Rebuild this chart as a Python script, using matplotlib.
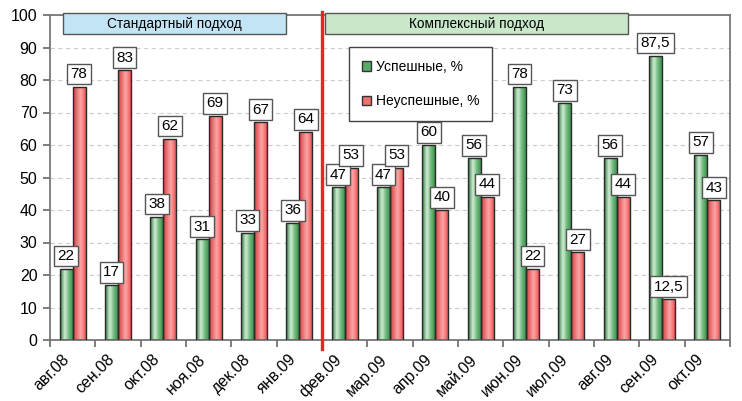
import matplotlib
matplotlib.use("Agg")
import matplotlib.pyplot as plt
import numpy as np
from matplotlib.patches import Rectangle, Patch
from matplotlib.colors import LinearSegmentedColormap
import matplotlib.transforms as mtransforms

plt.rcParams['font.family'] = ['Liberation Sans', 'DejaVu Sans']

months = ["авг.08", "сен.08", "окт.08", "ноя.08", "дек.08", "янв.09", "фев.09",
          "мар.09", "апр.09", "май.09", "июн.09", "июл.09", "авг.09", "сен.09", "окт.09"]
success = [22, 17, 38, 31, 33, 36, 47, 47, 60, 56, 78, 73, 56, 87.5, 57]
failure = [78, 83, 62, 69, 67, 64, 53, 53, 40, 44, 22, 27, 44, 12.5, 43]
series_names = ["Успешные, %", "Неуспешные, %"]
headers = ["Стандартный подход", "Комплексный подход"]
yticks = list(range(0, 101, 10))

fig = plt.figure(figsize=(7.42, 4.01), dpi=100)
ax = fig.add_axes([50/742, 1-340/401, 680/742, 325/401])

x = np.arange(len(months))
w = 0.287

green_cmap = LinearSegmentedColormap.from_list("g", [(0, "#2c7a3c"), (0.35, "#d2eed5"), (0.65, "#6cb87a"), (1, "#358a47")])
red_cmap = LinearSegmentedColormap.from_list("r", [(0, "#d63a3a"), (0.55, "#faa8a8"), (0.8, "#f27272"), (1, "#e04444")])

grad = np.linspace(0, 1, 64).reshape(1, -1)

def gradient_bars(xpos, vals, cmap):
    bars = ax.bar(xpos, vals, width=w, color="none", edgecolor="#2a2a2a", linewidth=1.0, zorder=3)
    for b in bars:
        x0, y0 = b.get_x(), b.get_y()
        im = ax.imshow(grad, cmap=cmap, extent=[x0, x0 + b.get_width(), y0, y0 + b.get_height()],
                       aspect='auto', zorder=2.5, interpolation='bicubic')
        im.set_clip_path(b)
    return bars

gb = gradient_bars(x - w/2, success, green_cmap)
rb = gradient_bars(x + w/2, failure, red_cmap)

def fmt(v):
    return ("%g" % v).replace(".", ",")

box = dict(boxstyle="square,pad=0.22", facecolor="white", edgecolor="#555555", linewidth=1.0)
for xs, vals in ((x - w/2, success), (x + w/2, failure)):
    for xi, v in zip(xs, vals):
        ax.annotate(fmt(v), (xi, v), xytext=(0, 4), textcoords="offset points", ha="center", va="bottom",
                    fontsize=11, bbox=box, zorder=5)

ax.set_xlim(-0.5, len(months) - 0.5)
ax.set_ylim(0, 100)
ax.set_yticks(yticks)
ax.tick_params(axis='y', labelsize=11.5, direction='out', length=5, color="#666666", width=1.2, pad=4)
ax.set_xticks(np.arange(-0.5, len(months), 1.0))
ax.set_xticklabels([])
ax.set_xticks(x, minor=True)
ax.set_xticklabels(months, minor=True, rotation=45, ha="right", rotation_mode="anchor", fontsize=11.5)
ax.tick_params(axis='x', which='major', direction='out', length=5, color="#666666", width=1.2)
ax.tick_params(axis='x', which='minor', length=0, pad=8.5)
offset = mtransforms.ScaledTranslation(-11/100, 0, fig.dpi_scale_trans)
for lab in ax.xaxis.get_minorticklabels():
    lab.set_transform(lab.get_transform() + offset)

ax.grid(axis='y', linestyle=(0, (4, 3)), color="#cccccc", linewidth=0.8, zorder=0)
for s in ax.spines.values():
    s.set_color("#777777")
    s.set_linewidth(1.3)

# separator line
ax.plot([5.5, 5.5], [-2.8, 100.9], color="#ee2222", linewidth=2.4, clip_on=False, zorder=6)

# headers
ax.add_patch(Rectangle((-0.213, 94.15), 4.919, 6.45, facecolor="#c2e4f5", edgecolor="#555555",
                       linewidth=1.0, clip_on=False, zorder=4))
ax.text(-0.213 + 4.919/2, 97.3, headers[0], ha="center", va="center", fontsize=9.8, zorder=5)
ax.add_patch(Rectangle((5.567, 94.15), 6.683, 6.45, facecolor="#c9e8c9", edgecolor="#555555",
                       linewidth=1.0, clip_on=False, zorder=4))
ax.text(5.567 + 6.683/2, 97.3, headers[1], ha="center", va="center", fontsize=9.8, zorder=5)

handles = [Patch(facecolor="#5aaa68", edgecolor="#333333"), Patch(facecolor="#f07070", edgecolor="#333333")]
leg = ax.legend(handles, series_names, loc="upper left", bbox_to_anchor=(0.44, 0.9015), fontsize=10,
                frameon=True, fancybox=False, framealpha=1, edgecolor="#444444", labelspacing=1.5,
                handlelength=0.7, handleheight=0.7, handletextpad=0.3, borderpad=0.9, borderaxespad=0)
leg.get_frame().set_linewidth(1.0)
leg.set_zorder(7)

fig.savefig("out.png", dpi=100)
